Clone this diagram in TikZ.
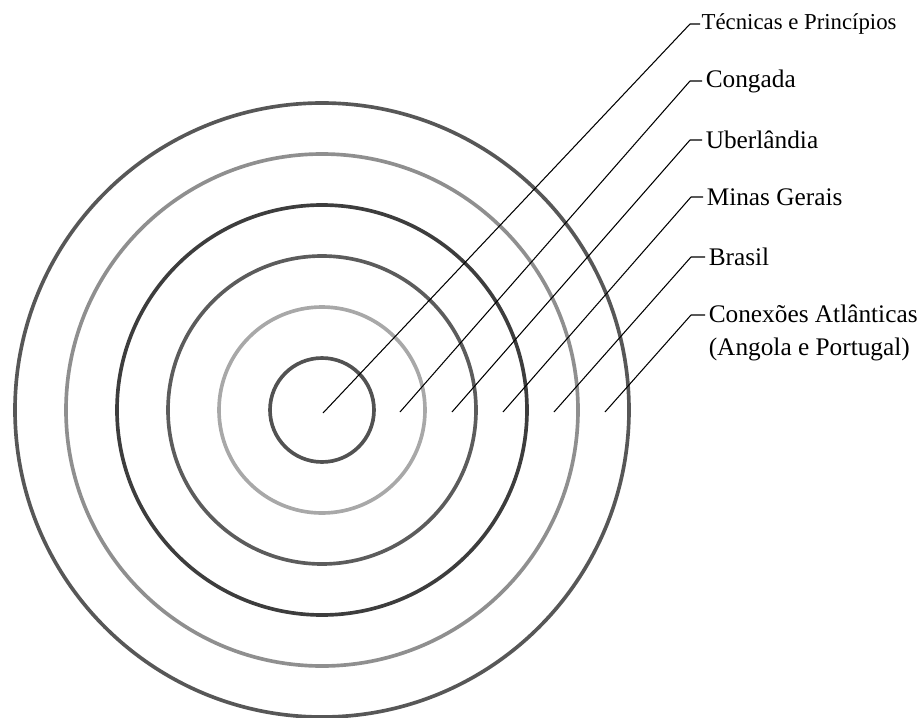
\documentclass[tikz,border=0pt]{standalone}
\usepackage{fontspec}
\setmainfont{Liberation Serif}
\begin{document}
\begin{tikzpicture}
[x=0.025cm,y=-0.025cm, ring/.style={line width=2.6pt},
 lead/.style={line width=0.75pt,line join=round},
 lab/.style={anchor=west,inner sep=2.5pt,font=\fontsize{18}{23.4}\selectfont}]

% the colours of the rings
\definecolor{ringA}{gray}{0.32}
\definecolor{ringB}{gray}{0.66}
\definecolor{ringC}{gray}{0.36}
\definecolor{ringD}{gray}{0.24}
\definecolor{ringE}{gray}{0.56}
\definecolor{ringF}{gray}{0.34}

\useasboundingbox (0,0) rectangle (923,718);

% the centre
\coordinate (O) at (322,410);

% the rings
\draw[ring,ringF] (O) circle [radius=307];
\draw[ring,ringE] (O) circle [radius=256];
\draw[ring,ringD] (O) circle [radius=205];
\draw[ring,ringC] (O) circle [radius=154];
\draw[ring,ringB] (O) circle [radius=103];
\draw[ring,ringA] (O) circle [radius=52];

% start of the leaders
\coordinate (p1) at (323,413);
\coordinate (p2) at (400,412);
\coordinate (p3) at (452,412);
\coordinate (p4) at (503,412);
\coordinate (p5) at (554,412);
\coordinate (p6) at (605,412);

% the bends
\coordinate (k1) at (690,24);
\coordinate (k2) at (690,81);
\coordinate (k3) at (690,140);
\coordinate (k4) at (691,197);
\coordinate (k5) at (691,257);
\coordinate (k6) at (691,315);

% the labels
\node[lab,inner sep=1pt,font=\fontsize{16.2}{19}\selectfont] (t1) at (700,24) {Técnicas e Princípios};
\node[lab] (t2) at (702,81) {Congada};
\node[lab] (t3) at (702,140) {Uberlândia};
\node[lab] (t4) at (703,197) {Minas Gerais};
\node[lab] (t5) at (705,257) {Brasil};
\node[lab,anchor=north west,align=left] (t6) at (705,301) {Conexões Atlânticas\\(Angola e Portugal)};

% the leaders
\draw[lead] (p1) -- (k1) -- (t1.west);
\draw[lead] (p2) -- (k2) -- (t2.west);
\draw[lead] (p3) -- (k3) -- (t3.west);
\draw[lead] (p4) -- (k4) -- (t4.west);
\draw[lead] (p5) -- (k5) -- (t5.west);
\draw[lead] (p6) -- (k6) -- (k6 -| t6.west);

\end{tikzpicture}
\end{document}
